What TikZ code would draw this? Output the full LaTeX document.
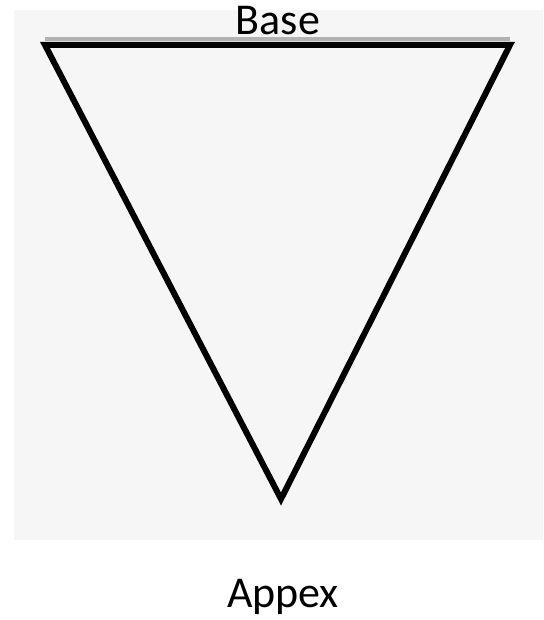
\documentclass[tikz,border=0pt]{standalone}
\usepackage{fontspec}
\setmainfont{Carlito}
\usetikzlibrary{math}
\definecolor{bggray}{RGB}{246,246,246}

\begin{document}
\begin{tikzpicture}[x=1pt,y=-1pt]

\tikzmath{
\Lx = 45;
\Rx = 510;
\Ty = 45;
\Ax = 281;
\Ay = 499;
}
%
\useasboundingbox (0,0) rectangle (543,620);
\fill[bggray] (14,10) rectangle (543,540);

\coordinate (tl) at (\Lx,\Ty);
\coordinate (tr) at (\Rx,\Ty);
\coordinate (apex) at (\Ax,\Ay);

\draw[black!30, line width=4pt] (\Lx,\Ty-6) -- (\Rx,\Ty-6);
\draw[black, line width=6pt, line join=miter] (tl) -- (tr) -- (apex) -- cycle;

\node[font=\fontsize{44}{48}\selectfont, anchor=base, inner sep=0pt] (baselabel) at (278,35) {Base};
\node[font=\fontsize{44}{48}\selectfont, anchor=base, inner sep=0pt] (apexlabel) at (283,607) {Appex};

\end{tikzpicture}
\end{document}
